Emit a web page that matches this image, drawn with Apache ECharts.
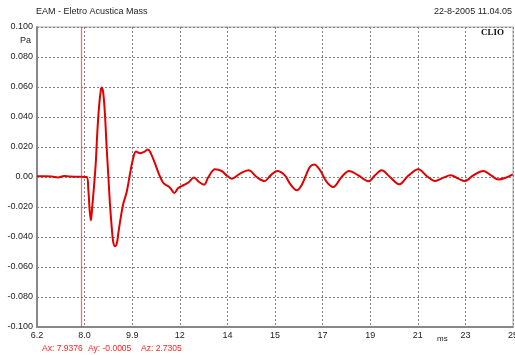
<!DOCTYPE html>
<html><head><meta charset="utf-8">
<script src="https://cdn.jsdelivr.net/npm/echarts@6/dist/echarts.min.js"></script>
<style>html,body{margin:0;padding:0;background:#fff}#c{width:515px;height:355px}</style>
</head><body><div id="c"></div>
<script>
// time (ms)
const times = [6.20,6.52,6.79,7.03,7.27,7.50,7.82,8.16,8.23,8.28,8.33,8.38,8.45,8.52,8.58,8.65,8.72,8.76,8.82,8.89,8.95,9.02,9.08,9.15,9.21,9.28,9.35,9.41,9.51,9.61,9.74,9.87,9.98,10.11,10.27,10.43,10.58,10.70,10.86,11.02,11.19,11.39,11.49,11.62,11.78,11.98,12.18,12.40,12.60,12.80,12.97,13.23,13.49,13.69,13.89,14.22,14.55,14.88,15.18,15.43,15.69,15.99,16.19,16.46,16.65,16.85,16.98,17.14,17.38,17.64,17.90,18.23,18.53,18.89,19.29,19.55,19.81,20.14,20.51,20.86,21.26,21.59,21.92,22.25,22.54,22.84,23.10,23.43,23.83,24.16,24.42,24.68,24.99];
// pressure (Pa)
const pressure = [0.0005,0.0005,0.0003,-0.0003,0.0006,0.0003,0.0002,0.0,-0.0089,-0.0222,-0.0289,-0.0200,-0.0067,0.0091,0.0291,0.0467,0.0578,0.0596,0.0556,0.0400,0.0200,0.0,-0.0177,-0.0333,-0.0433,-0.0462,-0.0444,-0.0377,-0.0267,-0.0177,-0.0102,0.0018,0.0111,0.0170,0.0158,0.0168,0.0183,0.0156,0.0091,0.0018,-0.0040,-0.0062,-0.0079,-0.0107,-0.0073,-0.0055,-0.0037,-0.0004,-0.0033,-0.0051,0.0,0.0051,0.0040,0.0011,-0.0011,0.0023,0.0045,0.0,-0.0027,0.0011,0.0040,0.0011,-0.0044,-0.0089,-0.0055,0.0023,0.0067,0.0083,0.0045,-0.0033,-0.0067,0.0,0.0040,0.0011,-0.0029,0.0011,0.0045,0.0,-0.0049,0.0008,0.0051,0.0007,-0.0027,-0.0004,0.0011,-0.0011,-0.0027,0.0011,0.0040,0.0007,-0.0017,-0.0007,0.0018];
const xTickLabels = ['6.2','8.0','9.9','12','14','15','17','19','21','23','25'];
const yTickLabels = ['-0.100','-0.080','-0.060','-0.040','-0.020','0.00','0.020','0.040','0.060','0.080','0.100'];
const xStart = 6.2, xStep = 1.88;
const cursorX = 7.9376;

const chart = echarts.init(document.getElementById('c'), null, {renderer:'canvas'});
const font = 'Liberation Sans, Arial, sans-serif';
const data = times.map((t,i)=>[t - xStart, pressure[i]]);
chart.setOption({
  animation:false,
  backgroundColor:'#fff',
  grid:{left:37,right:2,top:27,bottom:28,show:true,borderColor:'#aaa',borderWidth:1,
    outerBoundsMode:'none',containLabel:false},
  xAxis:{type:'value',min:0,max:18.8,interval:xStep,
    axisLine:{show:true,onZero:false,lineStyle:{color:'#888',width:2}},
    axisTick:{show:false},
    splitLine:{show:true,lineStyle:{color:'#808080',width:1,type:[2,2]}},
    axisLabel:{margin:4,fontSize:9,color:'#222',fontFamily:font,hideOverlap:false,
      showMinLabel:true,showMaxLabel:true,
      formatter:v=>xTickLabels[Math.round(v/xStep)]}},
  yAxis:{type:'value',min:-0.1,max:0.1,interval:0.02,
    axisLine:{show:true,onZero:false,lineStyle:{color:'#888',width:2}},
    axisTick:{show:false},
    splitLine:{show:true,lineStyle:{color:'#808080',width:1,type:[2,2]}},
    axisLabel:{margin:4,fontSize:9,color:'#222',fontFamily:font,
      formatter:v=>yTickLabels[Math.round((v+0.1)/0.02)]}},
  series:[{type:'line',data:data,smooth:0.35,symbol:'none',
    lineStyle:{color:'#e00000',width:2},
    markLine:{silent:true,symbol:'none',label:{show:false},
      lineStyle:{color:'rgba(255,40,40,0.7)',width:1.2,type:'solid'},
      data:[{xAxis:cursorX - xStart}]}}],
  graphic:[
    {type:'text',left:36,top:7,style:{text:'EAM - Eletro Acustica Mass',fontSize:9,fontFamily:font,fill:'#222'}},
    {type:'text',right:3,top:7,style:{text:'22-8-2005 11.04.05',fontSize:9,fontFamily:font,fill:'#222'}},
    {type:'text',left:20,top:36,style:{text:'Pa',fontSize:9,fontFamily:font,fill:'#222'}},
    {type:'text',left:437,top:335,style:{text:'ms',fontSize:8,fontFamily:font,fill:'#222'}},
    {type:'rect',shape:{x:475,y:28,width:37,height:12},style:{fill:'#fff'}},
    {type:'text',left:481,top:28,style:{text:'CLIO',fontSize:9,fontWeight:'bold',fontFamily:'Liberation Serif, serif',fill:'#111'}},
    {type:'text',left:42,top:344,style:{text:'Ax: 7.9376',fontSize:8.5,fontFamily:font,fill:'#ff2020'}},
    {type:'text',left:88,top:344,style:{text:'Ay: -0.0005',fontSize:8.5,fontFamily:font,fill:'#ff2020'}},
    {type:'text',left:141,top:344,style:{text:'Az: 2.7305',fontSize:8.5,fontFamily:font,fill:'#ff2020'}}
  ]
});
</script></body></html>
